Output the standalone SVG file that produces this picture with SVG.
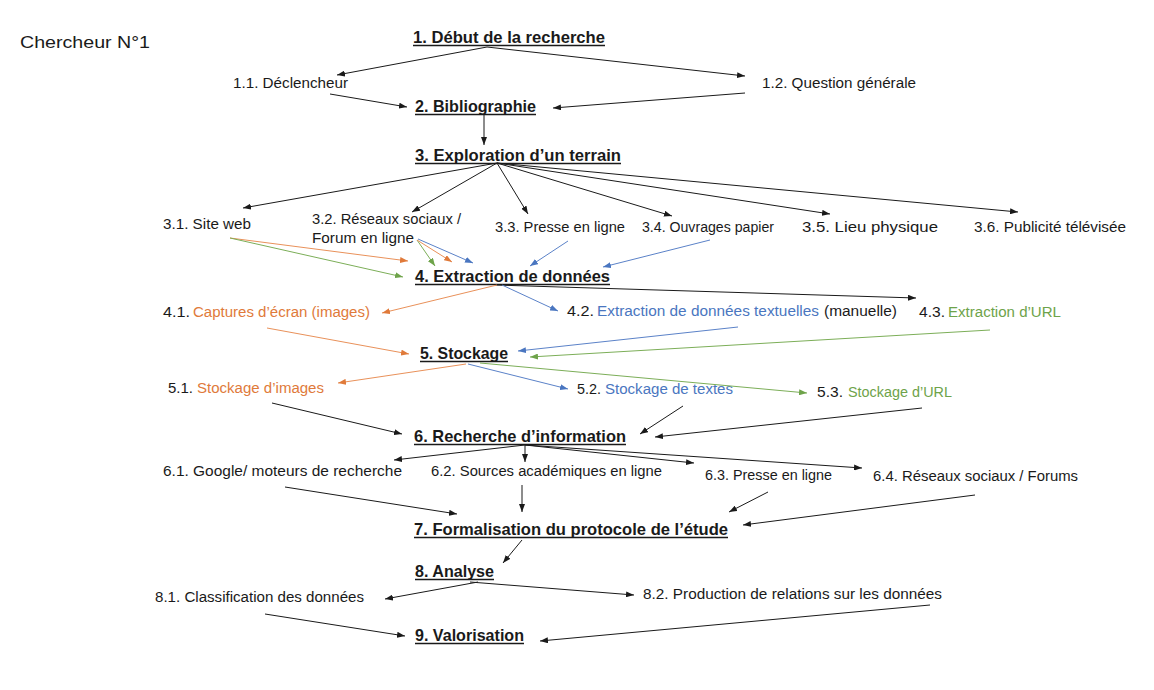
<svg xmlns="http://www.w3.org/2000/svg" width="1154" height="690" viewBox="0 0 1154 690">
<style>
text{font-family:"Liberation Sans",Arial,sans-serif;font-size:15.3px;fill:#1a1a1a}
.h{font-weight:bold;font-size:17px}
.o{fill:#e07a3a}.b{fill:#4a76c0}.g{fill:#6ea34a}
.ul{stroke:#1a1a1a;stroke-width:1.4}
.k{stroke:#1a1a1a;stroke-width:1;fill:none;marker-end:url(#ak)}
.co{stroke:#e9915a;stroke-width:1;fill:none;marker-end:url(#ao)}
.cb{stroke:#5b82c8;stroke-width:1;fill:none;marker-end:url(#ab)}
.cg{stroke:#7cae58;stroke-width:1;fill:none;marker-end:url(#ag)}
</style>
<defs>
<marker id="ak" viewBox="0 0 8 6" refX="8" refY="3" markerWidth="8" markerHeight="6" markerUnits="userSpaceOnUse" orient="auto"><path d="M0,0L8,3L0,6z" fill="#1a1a1a"/></marker>
<marker id="ao" viewBox="0 0 8 6" refX="8" refY="3" markerWidth="8" markerHeight="6" markerUnits="userSpaceOnUse" orient="auto"><path d="M0,0L8,3L0,6z" fill="#e07a3a"/></marker>
<marker id="ab" viewBox="0 0 8 6" refX="8" refY="3" markerWidth="8" markerHeight="6" markerUnits="userSpaceOnUse" orient="auto"><path d="M0,0L8,3L0,6z" fill="#4a76c0"/></marker>
<marker id="ag" viewBox="0 0 8 6" refX="8" refY="3" markerWidth="8" markerHeight="6" markerUnits="userSpaceOnUse" orient="auto"><path d="M0,0L8,3L0,6z" fill="#6ea34a"/></marker>
</defs>
<rect width="1154" height="690" fill="#fff"/>

<g id="title"><text x="20" y="48" style="font-size:17px" textLength="130" lengthAdjust="spacingAndGlyphs">Chercheur N°1</text></g>

<g id="n1"><text class="h" x="413" y="43" textLength="192" lengthAdjust="spacingAndGlyphs">1. Début de la recherche</text><line class="ul" x1="413" y1="45.5" x2="605" y2="45.5"/></g>
<g id="n1-1"><text x="233" y="88" textLength="115" lengthAdjust="spacingAndGlyphs">1.1. Déclencheur</text></g>
<g id="n1-2"><text x="762" y="88" textLength="154" lengthAdjust="spacingAndGlyphs">1.2. Question générale</text></g>
<g id="n2"><text class="h" x="415" y="112" textLength="121" lengthAdjust="spacingAndGlyphs">2. Bibliographie</text><line class="ul" x1="415" y1="114.5" x2="536" y2="114.5"/></g>
<g id="n3"><text class="h" x="415" y="161" textLength="206" lengthAdjust="spacingAndGlyphs">3. Exploration d’un terrain</text><line class="ul" x1="415" y1="163.5" x2="621" y2="163.5"/></g>
<g id="n3-1"><text x="163" y="229" textLength="88" lengthAdjust="spacingAndGlyphs">3.1. Site web</text></g>
<g id="n3-2"><text x="312" y="224" textLength="149" lengthAdjust="spacingAndGlyphs">3.2. Réseaux sociaux /</text><text x="312" y="243" textLength="102" lengthAdjust="spacingAndGlyphs">Forum en ligne</text></g>
<g id="n3-3"><text x="495" y="232" textLength="130" lengthAdjust="spacingAndGlyphs">3.3. Presse en ligne</text></g>
<g id="n3-4"><text x="642" y="232" textLength="132" lengthAdjust="spacingAndGlyphs">3.4. Ouvrages papier</text></g>
<g id="n3-5"><text x="802" y="232" textLength="136" lengthAdjust="spacingAndGlyphs">3.5. Lieu physique</text></g>
<g id="n3-6"><text x="974" y="232" textLength="152" lengthAdjust="spacingAndGlyphs">3.6. Publicité télévisée</text></g>
<g id="n4"><text class="h" x="415" y="282" textLength="195" lengthAdjust="spacingAndGlyphs">4. Extraction de données</text><line class="ul" x1="415" y1="284.5" x2="610" y2="284.5"/></g>
<g id="n4-1"><text x="163" y="317" textLength="27" lengthAdjust="spacingAndGlyphs">4.1.</text><text class="o" x="193" y="317" textLength="177" lengthAdjust="spacingAndGlyphs">Captures d’écran (images)</text></g>
<g id="n4-2"><text x="567" y="316" textLength="27" lengthAdjust="spacingAndGlyphs">4.2.</text><text class="b" x="597" y="316" textLength="222" lengthAdjust="spacingAndGlyphs">Extraction de données textuelles</text><text x="824" y="316" textLength="73" lengthAdjust="spacingAndGlyphs">(manuelle)</text></g>
<g id="n4-3"><text x="919" y="317" textLength="26" lengthAdjust="spacingAndGlyphs">4.3.</text><text class="g" x="948" y="317" textLength="113" lengthAdjust="spacingAndGlyphs">Extraction d’URL</text></g>
<g id="n5"><text class="h" x="420" y="359" textLength="88" lengthAdjust="spacingAndGlyphs">5. Stockage</text><line class="ul" x1="420" y1="361.5" x2="508" y2="361.5"/></g>
<g id="n5-1"><text x="168" y="393" textLength="25" lengthAdjust="spacingAndGlyphs">5.1.</text><text class="o" x="197" y="393" textLength="127" lengthAdjust="spacingAndGlyphs">Stockage d’images</text></g>
<g id="n5-2"><text x="577" y="394" textLength="24" lengthAdjust="spacingAndGlyphs">5.2.</text><text class="b" x="605" y="394" textLength="128" lengthAdjust="spacingAndGlyphs">Stockage de textes</text></g>
<g id="n5-3"><text x="817" y="397" textLength="26" lengthAdjust="spacingAndGlyphs">5.3.</text><text class="g" x="848" y="397" textLength="104" lengthAdjust="spacingAndGlyphs">Stockage d’URL</text></g>
<g id="n6"><text class="h" x="414" y="442" textLength="212" lengthAdjust="spacingAndGlyphs">6. Recherche d’information</text><line class="ul" x1="414" y1="444.5" x2="626" y2="444.5"/></g>
<g id="n6-1"><text x="163" y="476" textLength="239" lengthAdjust="spacingAndGlyphs">6.1. Google/ moteurs de recherche</text></g>
<g id="n6-2"><text x="431" y="476" textLength="231" lengthAdjust="spacingAndGlyphs">6.2. Sources académiques en ligne</text></g>
<g id="n6-3"><text x="705" y="480" textLength="127" lengthAdjust="spacingAndGlyphs">6.3. Presse en ligne</text></g>
<g id="n6-4"><text x="873" y="481" textLength="205" lengthAdjust="spacingAndGlyphs">6.4. Réseaux sociaux / Forums</text></g>
<g id="n7"><text class="h" x="414" y="535" textLength="314" lengthAdjust="spacingAndGlyphs">7. Formalisation du protocole de l’étude</text><line class="ul" x1="414" y1="537.5" x2="728" y2="537.5"/></g>
<g id="n8"><text class="h" x="415" y="577" textLength="79" lengthAdjust="spacingAndGlyphs">8. Analyse</text><line class="ul" x1="415" y1="579.5" x2="494" y2="579.5"/></g>
<g id="n8-1"><text x="155" y="602" textLength="209" lengthAdjust="spacingAndGlyphs">8.1. Classification des données</text></g>
<g id="n8-2"><text x="643" y="599" textLength="299" lengthAdjust="spacingAndGlyphs">8.2. Production de relations sur les données</text></g>
<g id="n9"><text class="h" x="415" y="641" textLength="109" lengthAdjust="spacingAndGlyphs">9. Valorisation</text><line class="ul" x1="415" y1="643.5" x2="524" y2="643.5"/></g>

<g id="connectors">
<line class="k" x1="487" y1="47" x2="337" y2="75"/>
<line class="k" x1="487" y1="47" x2="745" y2="76"/>
<line class="k" x1="330" y1="94" x2="407" y2="107"/>
<line class="k" x1="745" y1="93" x2="553" y2="108"/>
<line class="k" x1="484" y1="115" x2="484" y2="145"/>
<line class="k" x1="497" y1="163" x2="243" y2="208"/>
<line class="k" x1="497" y1="163" x2="412" y2="212"/>
<line class="k" x1="497" y1="163" x2="528" y2="214"/>
<line class="k" x1="497" y1="163" x2="672" y2="216"/>
<line class="k" x1="497" y1="163" x2="830" y2="214"/>
<line class="k" x1="497" y1="163" x2="1018" y2="212"/>
<line class="co" x1="230" y1="238" x2="408" y2="261"/>
<line class="cg" x1="230" y1="238" x2="403" y2="277"/>
<line class="cg" x1="417" y1="240" x2="435" y2="266"/>
<line class="co" x1="417" y1="240" x2="452" y2="262"/>
<line class="cb" x1="418" y1="239" x2="473" y2="263"/>
<line class="cb" x1="568" y1="241" x2="530" y2="266"/>
<line class="cb" x1="710" y1="240" x2="603" y2="267"/>
<line class="k" x1="495" y1="285" x2="916" y2="298"/>
<line class="co" x1="497" y1="285" x2="382" y2="313"/>
<line class="cb" x1="502" y1="285" x2="558" y2="311"/>
<line class="co" x1="267" y1="328" x2="409" y2="354"/>
<line class="cb" x1="738" y1="327" x2="518" y2="351"/>
<line class="cg" x1="990" y1="330" x2="530" y2="357"/>
<line class="co" x1="466" y1="364" x2="338" y2="383"/>
<line class="cb" x1="468" y1="364" x2="568" y2="389"/>
<line class="cg" x1="480" y1="363" x2="807" y2="393"/>
<line class="k" x1="272" y1="403" x2="402" y2="434"/>
<line class="k" x1="683" y1="406" x2="640" y2="434"/>
<line class="k" x1="922" y1="408" x2="655" y2="437"/>
<line class="k" x1="525" y1="445" x2="394" y2="460"/>
<line class="k" x1="525" y1="445" x2="525" y2="462"/>
<line class="k" x1="525" y1="445" x2="694" y2="463"/>
<line class="k" x1="525" y1="445" x2="862" y2="468"/>
<line class="k" x1="285" y1="487" x2="457" y2="514"/>
<line class="k" x1="522" y1="485" x2="522" y2="512"/>
<line class="k" x1="768" y1="492" x2="729" y2="512"/>
<line class="k" x1="975" y1="495" x2="743" y2="525"/>
<line class="k" x1="522" y1="540" x2="503" y2="563"/>
<line class="k" x1="478" y1="582" x2="385" y2="599"/>
<line class="k" x1="470" y1="582" x2="634" y2="595"/>
<line class="k" x1="265" y1="614" x2="405" y2="636"/>
<line class="k" x1="930" y1="605" x2="540" y2="641"/>
</g>
</svg>
